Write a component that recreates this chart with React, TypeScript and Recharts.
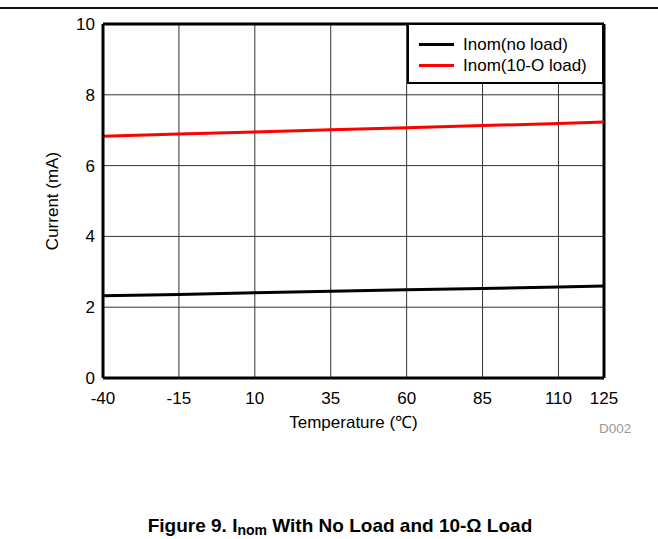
import {
  LineChart,
  Line,
  XAxis,
  YAxis,
  CartesianGrid,
  Legend,
  ReferenceLine,
  Label,
} from "recharts";

const temps = [-40, -15, 10, 35, 60, 85, 110, 125];
const noLoad = [2.32, 2.36, 2.41, 2.45, 2.49, 2.53, 2.57, 2.6];
const tenOhmLoad = [6.83, 6.89, 6.95, 7.01, 7.07, 7.13, 7.19, 7.23];

const xTicks = [-40, -15, 10, 35, 60, 85, 110, 125];
const yTicks = [0, 2, 4, 6, 8, 10];
const seriesOrder = ["noLoad", "tenOhm"];

const data = temps.map((t, i) => ({
  temp: t,
  noLoad: noLoad[i],
  tenOhm: tenOhmLoad[i],
}));

const font = "Arial, 'Liberation Sans', Helvetica, sans-serif";

function BoxLegend(props: any) {
  const items = [...(props.payload || [])].sort(
    (a: any, b: any) =>
      seriesOrder.indexOf(a.dataKey) - seriesOrder.indexOf(b.dataKey)
  );
  return (
    <div
      style={{
        boxSizing: "border-box",
        width: 197,
        height: 61,
        border: "2px solid #000",
        background: "#fff",
        padding: "9px 0 0 10px",
        fontFamily: font,
        fontSize: 17,
        color: "#000",
      }}
    >
      {items.map((it: any) => (
        <div
          key={it.value}
          style={{ display: "flex", alignItems: "center", height: 21 }}
        >
          <span
            style={{
              display: "inline-block",
              width: 35,
              height: 3,
              background: it.color,
              marginRight: 9,
            }}
          />
          <span>{it.value}</span>
        </div>
      ))}
    </div>
  );
}

export default function App() {
  return (
    <div
      style={{
        position: "absolute",
        left: 0,
        top: 0,
        width: 658,
        height: 539,
        background: "#fff",
        fontFamily: font,
      }}
    >
      <div
        style={{
          position: "absolute",
          left: 0,
          top: 7,
          width: 658,
          height: 1.5,
          background: "#111",
        }}
      />
      <LineChart
        width={658}
        height={539}
        data={data}
        margin={{ top: 24, right: 54, left: 43, bottom: 111 }}
      >
        <CartesianGrid stroke="#333" strokeWidth={1} />
        <XAxis
          dataKey="temp"
          type="number"
          domain={[-40, 125]}
          ticks={xTicks}
          interval={0}
          height={50}
          tickLine={false}
          tickSize={8}
          tickMargin={6}
          axisLine={{ stroke: "#000", strokeWidth: 3 }}
          tick={{ fontSize: 17, fill: "#000", fontFamily: font }}
        >
          <Label
            value="Temperature (℃)"
            position="insideBottom"
            offset={0}
            style={{ fontSize: 17, fill: "#000", fontFamily: font }}
          />
        </XAxis>
        <YAxis
          type="number"
          domain={[0, 10]}
          ticks={yTicks}
          interval={0}
          width={60}
          tickLine={false}
          tickSize={4}
          tickMargin={4}
          axisLine={{ stroke: "#000", strokeWidth: 3 }}
          tick={{ fontSize: 17, fill: "#000", fontFamily: font }}
        >
          <Label
            value="Current (mA)"
            angle={-90}
            position="insideLeft"
            offset={9}
            style={{
              fontSize: 17,
              fill: "#000",
              fontFamily: font,
              textAnchor: "middle",
            }}
          />
        </YAxis>
        <ReferenceLine y={10} stroke="#000" strokeWidth={3} />
        <ReferenceLine x={125} stroke="#000" strokeWidth={3} />
        <Line
          dataKey="noLoad"
          name="Inom(no load)"
          stroke="#000"
          strokeWidth={3}
          dot={false}
          type="linear"
          isAnimationActive={false}
        />
        <Line
          dataKey="tenOhm"
          name="Inom(10-O load)"
          stroke="#ff0000"
          strokeWidth={3}
          dot={false}
          type="linear"
          isAnimationActive={false}
        />
        <Legend
          layout="vertical"
          align="center"
          verticalAlign="middle"
          content={<BoxLegend />}
          wrapperStyle={{ left: 407, top: 23, width: 197, height: 61 }}
        />
      </LineChart>
      <div
        style={{
          position: "absolute",
          left: 599,
          top: 421,
          fontSize: 13.5,
          color: "#999",
          fontFamily: font,
        }}
      >
        D002
      </div>
      <div
        style={{
          position: "absolute",
          left: 0,
          width: 680,
          top: 516,
          lineHeight: "19px",
          textAlign: "center",
          fontSize: 19,
          fontWeight: "bold",
          color: "#000",
          fontFamily: font,
          whiteSpace: "nowrap",
        }}
      >
        Figure 9. I
        <span style={{ fontSize: 14, verticalAlign: "-3px", lineHeight: 0 }}>
          nom
        </span>{" "}
        With No Load and 10-Ω Load
      </div>
    </div>
  );
}
